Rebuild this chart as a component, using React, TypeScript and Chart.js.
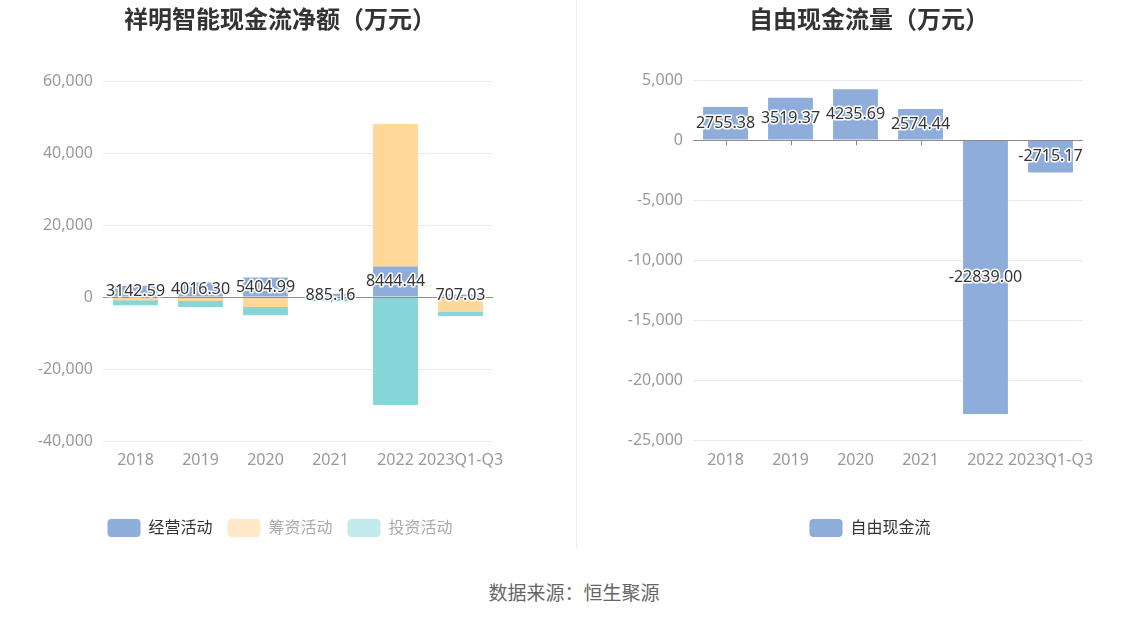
import React, { useEffect, useRef } from "react";
import { Chart, registerables } from "chart.js";

Chart.register(...registerables);

const FONT = '"Noto Sans", "Noto Sans CJK SC", sans-serif';

// Left chart data
const cashCategories = ["2018", "2019", "2020", "2021", "2022", "2023Q1-Q3"];
const operatingValues = [3142.59, 4016.3, 5404.99, 885.16, 8444.44, 707.03];
const financingValues = [-900, -1100, -2800, -200, 39600, -4000];
const investingValues = [-1400, -1700, -2300, -1000, -30000, -1300];
const cashTicks = { min: -40000, max: 60000, step: 20000 };

// Right chart data
const fcfCategories = ["2018", "2019", "2020", "2021", "2022", "2023Q1-Q3"];
const fcfValues = [2755.38, 3519.37, 4235.69, 2574.44, -22839.0, -2715.17];
const fcfTicks = { min: -25000, max: 5000, step: 5000 };

const BLUE = "#8eaddb";
const ORANGE = "#ffd899";
const TEAL = "#86d5d8";
const ORANGE_LIGHT = "#ffe9c9";
const TEAL_LIGHT = "#c2eaec";

const zeroLinePlugin = {
  id: "zeroLine",
  beforeDatasetsDraw(chart: any) {
    const { ctx, scales } = chart;
    const y = Math.round(scales.y.getPixelForValue(0)) + 0.5;
    ctx.save();
    ctx.strokeStyle = "#8c8c8c";
    ctx.lineWidth = 1;
    ctx.beginPath();
    const n = chart.data.labels.length;
    for (let i = 0; i < n; i++) {
      const x = Math.round(scales.x.getPixelForValue(i)) + 0.5;
      ctx.moveTo(x, y);
      ctx.lineTo(x, y + 5);
    }
    ctx.stroke();
    ctx.restore();
  },
  afterDatasetsDraw(chart: any) {
    const { ctx, chartArea, scales } = chart;
    const y = Math.round(scales.y.getPixelForValue(0)) + 0.5;
    ctx.save();
    ctx.strokeStyle = "#8c8c8c";
    ctx.lineWidth = 1;
    ctx.beginPath();
    ctx.moveTo(chartArea.left, y);
    ctx.lineTo(chartArea.right, y);
    ctx.stroke();
    ctx.restore();
  },
};

const valueLabelPlugin = {
  id: "valueLabels",
  afterDatasetsDraw(chart: any) {
    const { ctx } = chart;
    const meta = chart.getDatasetMeta(0);
    const data = chart.data.datasets[0].data;
    ctx.save();
    ctx.font = `16px ${FONT}`;
    ctx.textAlign = "center";
    ctx.textBaseline = "middle";
    ctx.lineJoin = "round";
    meta.data.forEach((bar: any, i: number) => {
      const v = data[i] as number;
      const cy = (bar.y + bar.base) / 2;
      const text = v.toFixed(2);
      ctx.strokeStyle = "#fff";
      ctx.lineWidth = 3;
      ctx.strokeText(text, bar.x, cy);
      ctx.fillStyle = "#333";
      ctx.fillText(text, bar.x, cy);
    });
    ctx.restore();
  },
};

// Shift the legend horizontally so it is centred where the reference centres it
const legendShiftPlugin = {
  id: "legendShift",
  beforeDraw(chart: any, _args: any, opts: any) {
    const lg = chart.legend;
    if (lg && !lg._shifted) {
      lg.left += opts.dx || 0;
      lg.right += opts.dx || 0;
      lg._shifted = true;
    }
  },
};

const fmt = (v: any) => Number(v).toLocaleString("en-US");

function makeOptions(
  ticks: { min: number; max: number; step: number },
  padding: any,
  yWidth: number,
  xHeight: number,
  xPad: number,
  legendDx: number,
  legendColors: { fill: string; text: string }[]
) {
  return {
    responsive: false,
    animation: false as const,
    layout: { padding },
    plugins: {
      title: { display: false },
      tooltip: { enabled: false },
      legendShift: { dx: legendDx },
      legend: {
        position: "bottom" as const,
        labels: {
          boxWidth: 33,
          boxHeight: 18,
          padding: 15,
          useBorderRadius: true,
          borderRadius: 4,
          font: { size: 16, family: FONT },
          color: "#333",
          generateLabels: (chart: any) => {
            const items = Chart.defaults.plugins.legend.labels.generateLabels(chart);
            return items.map((it: any, i: number) => ({
              ...it,
              fillStyle: legendColors[i].fill,
              strokeStyle: legendColors[i].fill,
              lineWidth: 0,
              fontColor: legendColors[i].text,
              hidden: false,
            }));
          },
        },
        onClick: () => {},
      },
    },
    scales: {
      x: {
        stacked: true,
        grid: { display: false, drawTicks: false },
        border: { display: false },
        ticks: {
          autoSkip: false,
          maxRotation: 0,
          padding: xPad,
          color: "#999",
          font: { size: 16, family: FONT },
        },
        afterFit: (scale: any) => {
          scale.height = xHeight;
        },
      },
      y: {
        stacked: true,
        min: ticks.min,
        max: ticks.max,
        grid: { color: "#e8ebf2", drawTicks: false },
        border: { display: false },
        ticks: {
          stepSize: ticks.step,
          padding: 10,
          color: "#999",
          font: { size: 16, family: FONT },
          callback: (v: any) => fmt(v),
        },
        afterFit: (scale: any) => {
          scale.width = yWidth;
        },
      },
    },
  };
}

function CashChart() {
  const ref = useRef<HTMLCanvasElement>(null);
  useEffect(() => {
    const chart = new Chart(ref.current!, {
      type: "bar",
      data: {
        labels: cashCategories,
        datasets: [
          { label: "经营活动", data: operatingValues, backgroundColor: BLUE, barPercentage: 0.69, categoryPercentage: 1 },
          { label: "筹资活动", data: financingValues, backgroundColor: ORANGE, barPercentage: 0.69, categoryPercentage: 1 },
          { label: "投资活动", data: investingValues, backgroundColor: TEAL, barPercentage: 0.69, categoryPercentage: 1 },
        ],
      },
      options: makeOptions(cashTicks, { top: 81, left: 0, right: 83, bottom: 3 }, 103, 63, 10, 33.5, [
        { fill: BLUE, text: "#333" },
        { fill: ORANGE_LIGHT, text: "#aaa" },
        { fill: TEAL_LIGHT, text: "#aaa" },
      ]) as any,
      plugins: [zeroLinePlugin, valueLabelPlugin, legendShiftPlugin],
    });
    return () => chart.destroy();
  }, []);
  return <canvas ref={ref} width={576} height={550} style={{ position: "absolute", left: 0, top: 0 }} />;
}

function FcfChart() {
  const ref = useRef<HTMLCanvasElement>(null);
  useEffect(() => {
    const chart = new Chart(ref.current!, {
      type: "bar",
      data: {
        labels: fcfCategories,
        datasets: [
          { label: "自由现金流", data: fcfValues, backgroundColor: BLUE, barPercentage: 0.69, categoryPercentage: 1 },
        ],
      },
      options: makeOptions(fcfTicks, { top: 80, left: 0, right: 65, bottom: 3 }, 116, 64, 11, 40, [
        { fill: BLUE, text: "#333" },
      ]) as any,
      plugins: [zeroLinePlugin, valueLabelPlugin, legendShiftPlugin],
    });
    return () => chart.destroy();
  }, []);
  return <canvas ref={ref} width={571} height={550} style={{ position: "absolute", left: 577, top: 0 }} />;
}

const titleStyle: React.CSSProperties = {
  position: "absolute",
  top: 2,
  fontFamily: '"Noto Sans CJK SC", sans-serif',
  fontWeight: "bold",
  fontSize: 24,
  color: "#333",
  textAlign: "center",
  lineHeight: "32px",
  whiteSpace: "nowrap",
};

export default function App() {
  return (
    <div
      style={{
        position: "fixed",
        left: 0,
        top: 0,
        width: 1148,
        height: 619,
        background: "#fff",
        overflow: "hidden",
      }}
    >
      <CashChart />
      <FcfChart />
      <div style={{ ...titleStyle, left: 80, width: 400 }}>祥明智能现金流净额（万元）</div>
      <div style={{ ...titleStyle, left: 669, width: 400 }}>自由现金流量（万元）</div>
      <div
        style={{
          position: "absolute",
          left: 576,
          top: 0,
          width: 1,
          height: 549,
          background: "#eeeeee",
        }}
      />
      <div
        style={{
          position: "absolute",
          left: 374,
          width: 400,
          top: 579,
          textAlign: "center",
          fontFamily: '"Noto Sans CJK SC", sans-serif',
          fontSize: 19,
          color: "#666",
          lineHeight: "26px",
        }}
      >
        数据来源：恒生聚源
      </div>
    </div>
  );
}
